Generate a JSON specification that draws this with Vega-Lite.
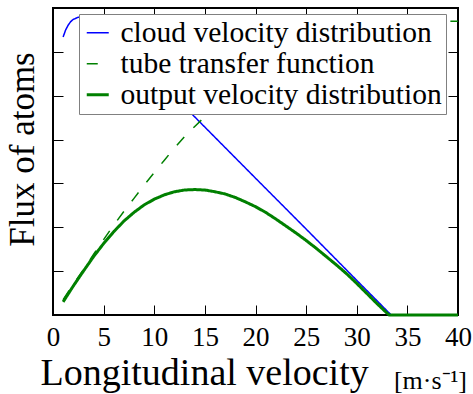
{
  "$schema": "https://vega.github.io/schema/vega-lite/v6.json",
  "width": 405,
  "height": 307,
  "autosize": "none",
  "padding": {"left": 53, "top": 8, "right": 15, "bottom": 79},
  "background": "white",
  "config": {"view": {"stroke": "black", "strokeWidth": 2}, "font": "serif"},
  "title": {"text": "[m·s⁻¹]", "orient": "bottom", "anchor": "end", "frame": "group", "fontSize": 26, "font": "serif", "fontWeight": "normal", "color": "black", "dx": 9, "dy": -3, "baseline": "alphabetic", "offset": 0},
  "datasets": {
    "cloud": [
      {"series": "cloud velocity distribution", "v": 1, "flux": 6.34},
      {"series": "cloud velocity distribution", "v": 1.25, "flux": 6.5},
      {"series": "cloud velocity distribution", "v": 1.5, "flux": 6.61},
      {"series": "cloud velocity distribution", "v": 1.75, "flux": 6.69},
      {"series": "cloud velocity distribution", "v": 2, "flux": 6.74},
      {"series": "cloud velocity distribution", "v": 2.5, "flux": 6.79},
      {"series": "cloud velocity distribution", "v": 3, "flux": 6.8},
      {"series": "cloud velocity distribution", "v": 4, "flux": 6.72},
      {"series": "cloud velocity distribution", "v": 5, "flux": 6.55},
      {"series": "cloud velocity distribution", "v": 6, "flux": 6.36},
      {"series": "cloud velocity distribution", "v": 7, "flux": 6.14},
      {"series": "cloud velocity distribution", "v": 8, "flux": 5.92},
      {"series": "cloud velocity distribution", "v": 9, "flux": 5.69},
      {"series": "cloud velocity distribution", "v": 10, "flux": 5.45},
      {"series": "cloud velocity distribution", "v": 13.3, "flux": 4.68},
      {"series": "cloud velocity distribution", "v": 14.5, "flux": 4.4},
      {"series": "cloud velocity distribution", "v": 20, "flux": 3.12},
      {"series": "cloud velocity distribution", "v": 25, "flux": 1.96},
      {"series": "cloud velocity distribution", "v": 30, "flux": 0.79},
      {"series": "cloud velocity distribution", "v": 33.4, "flux": 0},
      {"series": "cloud velocity distribution", "v": 40, "flux": 0}
    ],
    "tube": [
      {"series": "tube transfer function", "v": 1, "flux": 0.35},
      {"series": "tube transfer function", "v": 2, "flux": 0.7},
      {"series": "tube transfer function", "v": 3, "flux": 1.03},
      {"series": "tube transfer function", "v": 4, "flux": 1.38},
      {"series": "tube transfer function", "v": 5, "flux": 1.72},
      {"series": "tube transfer function", "v": 6, "flux": 2.05},
      {"series": "tube transfer function", "v": 7, "flux": 2.36},
      {"series": "tube transfer function", "v": 8, "flux": 2.66},
      {"series": "tube transfer function", "v": 9, "flux": 2.96},
      {"series": "tube transfer function", "v": 10, "flux": 3.25},
      {"series": "tube transfer function", "v": 11, "flux": 3.53},
      {"series": "tube transfer function", "v": 12, "flux": 3.81},
      {"series": "tube transfer function", "v": 13, "flux": 4.07},
      {"series": "tube transfer function", "v": 14, "flux": 4.3},
      {"series": "tube transfer function", "v": 15, "flux": 4.52},
      {"series": "tube transfer function", "v": 16, "flux": 4.73},
      {"series": "tube transfer function", "v": 17, "flux": 4.93},
      {"series": "tube transfer function", "v": 18, "flux": 5.12},
      {"series": "tube transfer function", "v": 19, "flux": 5.3},
      {"series": "tube transfer function", "v": 20, "flux": 5.47},
      {"series": "tube transfer function", "v": 22, "flux": 5.78},
      {"series": "tube transfer function", "v": 24, "flux": 6.04},
      {"series": "tube transfer function", "v": 26, "flux": 6.25},
      {"series": "tube transfer function", "v": 28, "flux": 6.42},
      {"series": "tube transfer function", "v": 30, "flux": 6.55},
      {"series": "tube transfer function", "v": 33, "flux": 6.65},
      {"series": "tube transfer function", "v": 36, "flux": 6.69},
      {"series": "tube transfer function", "v": 40, "flux": 6.7}
    ],
    "output": [
      {"series": "output velocity distribution", "v": 1, "flux": 0.3},
      {"series": "output velocity distribution", "v": 2, "flux": 0.66},
      {"series": "output velocity distribution", "v": 3, "flux": 1.0},
      {"series": "output velocity distribution", "v": 4, "flux": 1.33},
      {"series": "output velocity distribution", "v": 5, "flux": 1.63},
      {"series": "output velocity distribution", "v": 6, "flux": 1.9},
      {"series": "output velocity distribution", "v": 7, "flux": 2.14},
      {"series": "output velocity distribution", "v": 8, "flux": 2.34},
      {"series": "output velocity distribution", "v": 9, "flux": 2.51},
      {"series": "output velocity distribution", "v": 10, "flux": 2.64},
      {"series": "output velocity distribution", "v": 11, "flux": 2.74},
      {"series": "output velocity distribution", "v": 12, "flux": 2.81},
      {"series": "output velocity distribution", "v": 13, "flux": 2.85},
      {"series": "output velocity distribution", "v": 14, "flux": 2.86},
      {"series": "output velocity distribution", "v": 15, "flux": 2.85},
      {"series": "output velocity distribution", "v": 16, "flux": 2.81},
      {"series": "output velocity distribution", "v": 17, "flux": 2.76},
      {"series": "output velocity distribution", "v": 18, "flux": 2.68},
      {"series": "output velocity distribution", "v": 19, "flux": 2.58},
      {"series": "output velocity distribution", "v": 20, "flux": 2.47},
      {"series": "output velocity distribution", "v": 21, "flux": 2.34},
      {"series": "output velocity distribution", "v": 22, "flux": 2.19},
      {"series": "output velocity distribution", "v": 23, "flux": 2.03},
      {"series": "output velocity distribution", "v": 24, "flux": 1.87},
      {"series": "output velocity distribution", "v": 25, "flux": 1.7},
      {"series": "output velocity distribution", "v": 26, "flux": 1.52},
      {"series": "output velocity distribution", "v": 27, "flux": 1.33},
      {"series": "output velocity distribution", "v": 28, "flux": 1.14},
      {"series": "output velocity distribution", "v": 29, "flux": 0.94},
      {"series": "output velocity distribution", "v": 30, "flux": 0.72},
      {"series": "output velocity distribution", "v": 31, "flux": 0.49},
      {"series": "output velocity distribution", "v": 32, "flux": 0.26},
      {"series": "output velocity distribution", "v": 33, "flux": 0.04},
      {"series": "output velocity distribution", "v": 33.2, "flux": 0},
      {"series": "output velocity distribution", "v": 40, "flux": 0}
    ]
  },
  "layer": [
    {
      "data": {"name": "cloud"},
      "mark": {"type": "line", "strokeWidth": 1.5},
      "encoding": {
        "x": {"field": "v", "type": "quantitative", "scale": {"domain": [0, 40], "nice": false},
          "axis": {"orient": "bottom", "values": [0, 5, 10, 15, 20, 25, 30, 35, 40], "tickSize": -10, "tickColor": "black", "tickWidth": 1, "domain": false, "grid": false,
            "labelFontSize": 27, "labelFont": "serif", "labelColor": "black", "labelBaseline": "alphabetic", "labelPadding": 40, "labelFlush": false, "labelOverlap": false,
            "title": "Longitudinal velocity", "titleFont": "serif", "titleFontSize": 38, "titleFontWeight": "normal", "titleColor": "black", "titleAlign": "left", "titleAnchor": "start", "titleX": -13, "titleY": 69, "titleBaseline": "alphabetic"}},
        "y": {"field": "flux", "type": "quantitative", "scale": {"domain": [0, 7], "nice": false},
          "axis": {"orient": "left", "values": [1, 2, 3, 4, 5, 6], "tickSize": -10, "tickColor": "black", "tickWidth": 1, "labels": false, "domain": false, "grid": false,
            "title": "Flux of atoms", "titleFont": "serif", "titleFontSize": 35, "titleFontWeight": "normal", "titleColor": "black", "titleAngle": -90, "titleAlign": "center", "titleX": -20, "titleY": 141, "titleBaseline": "alphabetic"}},
        "color": {"field": "series", "type": "nominal",
          "scale": {"domain": ["cloud velocity distribution", "tube transfer function", "output velocity distribution"], "range": ["#0000ff", "#008000", "#008000"]},
          "legend": {"title": null, "orient": "none", "legendX": 26, "legendY": 6, "symbolType": "stroke", "symbolSize": 484, "symbolStrokeWidth": 1.5,
            "labelFontSize": 29.5, "labelFont": "serif", "labelColor": "black", "labelLimit": 0, "labelOffset": 8,
            "fillColor": "white", "strokeColor": "#808080", "padding": 4, "rowPadding": 0, "cornerRadius": 0,
            "encode": {"symbols": {"update": {"strokeWidth": {"signal": "datum.value === 'output velocity distribution' ? 3 : 1.5"}}}}}},
        "strokeDash": {"field": "series", "type": "nominal",
          "scale": {"domain": ["cloud velocity distribution", "tube transfer function", "output velocity distribution"], "range": [[1, 0], [11, 13], [1, 0]]}}
      }
    },
    {
      "data": {"name": "tube"},
      "mark": {"type": "line", "strokeWidth": 1.5},
      "encoding": {
        "x": {"field": "v", "type": "quantitative", "scale": {"domain": [0, 40], "nice": false},
          "axis": {"orient": "top", "values": [5, 10, 15, 20, 25, 30, 35], "tickSize": -10, "tickColor": "black", "tickWidth": 1, "labels": false, "domain": false, "grid": false, "title": null}},
        "y": {"field": "flux", "type": "quantitative", "scale": {"domain": [0, 7], "nice": false},
          "axis": {"orient": "right", "values": [1, 2, 3, 4, 5, 6], "tickSize": -10, "tickColor": "black", "tickWidth": 1, "labels": false, "domain": false, "grid": false, "title": null}},
        "color": {"field": "series", "type": "nominal"},
        "strokeDash": {"field": "series", "type": "nominal"}
      }
    },
    {
      "data": {"name": "output"},
      "mark": {"type": "line", "strokeWidth": 3},
      "encoding": {
        "x": {"field": "v", "type": "quantitative", "axis": null},
        "y": {"field": "flux", "type": "quantitative", "axis": null},
        "color": {"field": "series", "type": "nominal"},
        "strokeDash": {"field": "series", "type": "nominal"}
      }
    }
  ],
  "resolve": {"axis": {"x": "independent", "y": "independent"}}
}
